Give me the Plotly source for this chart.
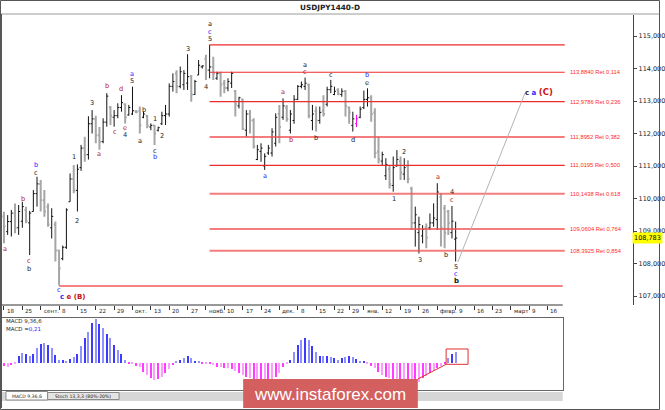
import plotly.graph_objects as go
import numpy as np
import pandas as pd

W, H = 665, 410

# ---------------- data ----------------
holidays = ["2017-12-25", "2018-01-01"]
dates = [d for d in pd.bdate_range("2017-08-18", "2018-02-09") if d.strftime("%Y-%m-%d") not in holidays]

opens = [109.45,108.98,109.29,109.55,109.10,109.30,109.65,109.25,109.60,110.15,
         110.45,109.95,109.75,109.10,109.20,108.40,108.15,108.50,109.90,110.60,
         110.25,110.95,111.55,111.35,112.30,112.45,111.95,111.75,112.35,112.80,
         112.50,112.55,112.80,112.90,112.57,112.60,112.68,112.70,112.50,112.55,
         112.20,112.25,112.10,112.30,112.55,112.60,113.45,113.85,113.45,113.50,
         113.55,113.75,113.20,113.80,114.05,114.30,113.95,114.05,113.70,113.85,
         113.55,113.40,113.55,113.30,112.85,113.05,112.10,112.60,112.40,111.20,
         111.45,111.00,111.40,111.40,111.70,112.60,112.50,112.80,112.10,112.40,
         113.05,113.45,113.45,113.50,112.40,112.70,112.40,112.70,112.90,113.35,
         113.20,113.35,113.20,113.30,112.80,112.25,112.30,112.50,112.80,113.05,
         113.10,112.65,111.45,111.15,110.70,110.90,110.40,111.00,111.15,110.75,
         111.00,110.30,109.25,108.95,108.85,109.10,109.10,109.25,109.35,110.05,
         109.70,109.60,108.95,108.75]
highs = [109.59,109.49,109.65,109.85,109.80,109.90,109.75,109.62,110.26,110.67,
         110.57,110.26,109.85,109.70,109.29,108.42,108.55,109.70,110.77,111.03,
         111.05,111.65,111.90,112.53,112.72,112.55,112.20,112.47,113.24,112.85,
         112.72,112.93,113.18,112.93,112.88,113.44,112.72,112.83,112.67,112.57,
         112.31,112.26,112.21,112.67,112.88,113.54,113.85,113.95,114.06,113.95,
         114.44,113.80,113.65,114.26,114.10,114.42,114.73,114.36,113.90,113.90,
         113.65,113.70,113.90,113.34,113.13,113.08,112.72,112.72,112.47,111.65,
         111.70,111.39,111.65,112.16,112.62,112.88,113.08,112.88,112.72,113.18,
         113.49,113.60,113.72,113.54,112.88,112.83,112.83,113.18,113.44,113.65,
         113.44,113.39,113.39,113.34,112.83,112.67,112.57,112.83,113.32,113.39,
         113.18,112.78,111.90,111.44,111.24,111.03,111.29,111.49,111.29,111.24,
         111.18,110.36,109.75,109.44,109.18,109.23,109.54,109.85,110.47,110.16,
         109.80,109.65,109.77,109.29]
lows = [108.62,108.88,108.83,108.93,108.88,109.10,109.24,108.26,109.60,109.75,
        109.60,109.44,109.13,108.77,108.06,107.32,108.10,108.45,109.90,110.16,
        109.60,110.85,111.13,111.20,112.00,111.70,111.50,111.70,112.21,112.26,
        112.21,112.47,112.67,112.31,112.55,112.57,112.62,112.00,112.47,112.16,
        112.10,111.65,112.06,112.26,112.26,112.52,113.29,113.24,113.39,113.34,
        113.34,112.98,113.19,113.80,114.00,113.65,113.70,113.65,113.65,113.13,
        113.24,113.30,113.40,112.52,112.77,112.11,111.90,112.00,111.54,111.18,
        111.13,110.88,111.34,111.29,111.60,111.70,112.42,112.36,112.00,112.30,
        113.03,113.39,113.34,112.47,112.10,112.06,112.30,112.52,112.83,113.24,
        113.18,113.18,113.13,112.52,112.30,112.06,112.20,112.47,112.75,112.83,
        112.36,111.24,111.08,111.03,110.57,110.31,110.21,110.98,110.57,110.57,
        110.47,109.03,108.52,108.31,108.62,108.47,109.03,109.13,109.03,108.52,
        108.47,108.88,108.77,108.06]
closes = [109.15,109.29,109.55,109.10,109.60,109.75,109.30,109.55,110.15,110.45,
          109.95,109.60,109.20,109.45,108.40,107.85,108.50,109.65,110.60,110.25,
          110.90,111.55,111.35,112.30,112.45,111.95,111.75,112.35,113.15,112.55,
          112.55,112.80,112.95,112.50,112.80,112.70,112.66,112.25,112.60,112.25,
          112.25,112.00,112.18,112.55,112.60,113.45,113.60,113.45,113.90,113.85,
          113.75,113.20,113.60,114.10,114.08,113.95,114.05,113.85,113.85,113.50,
          113.40,113.60,113.85,112.90,113.10,112.15,112.60,112.40,111.60,111.50,
          111.55,111.30,111.55,112.05,112.50,112.20,112.85,112.45,112.60,113.05,
          113.45,113.50,113.55,112.55,112.60,112.40,112.65,112.60,113.35,113.45,
          113.30,113.22,113.30,112.85,112.65,112.45,112.45,112.75,113.05,113.10,
          112.60,111.40,111.20,111.35,111.05,110.45,110.95,111.20,110.80,110.95,
          110.60,109.25,109.50,109.20,109.05,108.80,109.25,109.40,110.20,109.10,
          108.95,109.25,109.30,108.783]
magenta_bar = [96]

macd = [-0.061,-0.082,-0.054,-0.014,0.136,0.19,0.17,0.136,0.17,0.29,
        0.39,0.41,0.36,0.29,0.156,0.054,0.054,0.04,0.075,0.12,
        0.17,0.35,0.50,0.63,0.80,0.89,0.78,0.70,0.58,0.50,
        0.36,0.26,0.17,0.054,-0.014,-0.034,-0.061,-0.082,-0.18,-0.25,
        -0.31,-0.35,-0.34,-0.29,-0.22,-0.13,-0.048,0.02,0.054,0.088,
        0.136,0.10,0.04,0.02,-0.007,-0.014,-0.014,-0.048,-0.082,-0.082,
        -0.10,-0.116,-0.13,-0.17,-0.22,-0.25,-0.29,-0.32,-0.35,-0.39,
        -0.40,-0.42,-0.40,-0.37,-0.29,-0.20,-0.082,-0.014,0.054,0.22,
        0.37,0.46,0.51,0.46,0.35,0.22,0.14,0.136,0.14,0.116,
        0.088,0.054,0.088,0.116,0.14,0.12,0.075,0.034,0.02,-0.034,
        -0.061,-0.116,-0.18,-0.25,-0.29,-0.32,-0.33,-0.35,-0.39,-0.42,
        -0.46,-0.49,-0.44,-0.39,-0.32,-0.27,-0.20,-0.17,-0.116,-0.061,
        -0.014,0.10,0.17,0.21]

tick_dates = ["2017-08-18","2017-08-25","2017-09-01","2017-09-08","2017-09-15","2017-09-22","2017-09-29",
              "2017-10-06","2017-10-13","2017-10-20","2017-10-27","2017-11-03","2017-11-10","2017-11-17",
              "2017-11-24","2017-12-01","2017-12-08","2017-12-15","2017-12-22","2017-12-29","2018-01-05",
              "2018-01-12","2018-01-19","2018-01-26","2018-02-02","2018-02-09","2018-02-16","2018-02-23",
              "2018-03-02","2018-03-09","2018-03-16"]
tick_labels = ["18","25","сент.","8","15","22","29","окт.","13","20","27","нояб.","10","17","24",
               "дек.","8","15","22","29","янв.","12","19","26","февр.","9","16","23","март","9","16"]

price_ticks = [107, 108, 109, 110, 111, 112, 113, 114, 115]
fib_high, fib_low = 114.73, 107.309
fib_levels = [113.8840, 112.9786, 111.8952, 111.0195, 110.1438, 109.0604, 108.3925]
fib_ratios = ["0,114", "0,236", "0,382", "0,500", "0,618", "0,764", "0,854"]
last_price = 108.783
macd_now = "0,21"

# wave labels: (bar position, price, text, colour key)
wave_pos   = [56.1,56.1,56.1,50.1,55.1,34.9,34.9,28.0,32.0,24.1,30.1,33.0,33.0,38.1,41.1,43.1,37.0,41.1,41.1,
              25.9,19.2,19.9,8.8,8.8,5.05,0.3,6.8,6.8,15.1,71.0,76.1,78.1,82.0,82.0,84.9,89.0,95.1,98.9,98.9,
              109.0,106.1,118.3,122.1,122.1,113.2,120.3,123.1,123.1]
wave_price = [115.37,115.13,114.92,114.59,113.42,113.83,113.62,113.46,113.36,112.93,112.04,112.16,111.94,
              112.72,112.46,111.92,111.78,111.47,111.27,111.37,111.28,109.32,111.03,110.79,109.98,108.45,
              108.09,107.82,107.18,110.70,113.28,111.80,114.11,113.90,111.85,113.80,111.80,113.80,113.56,
              111.44,109.98,110.65,110.20,109.95,108.11,108.25,107.88,107.67]
wave_text  = ["a","c","5","3","4","a","5","b","d","3","c","e","4","b","1","2","a","c","b",
              "a","1","2","b","c","b","a","c","b","c","a","a","b","a","c","b","c","d","b","e",
              "2","1","a","4","c","3","b","5","c"]
wave_col   = ["k","b","k","k","k","b","k","r","r","k","r","r","k","k","k","k","k","k","b",
              "r","k","k","b","k","r","r","r","k","b","b","r","r","k","r","k","k","k","b","k",
              "k","k","r","k","r","k","k","k","b"]

# ---------------- geometry helpers ----------------
def px(x):
    return x / W

def py(y):
    return 1 - y / H

BAR0, STEP = 4.0, 3.7          # pixel of first bar and bar spacing
PLOT_L, PLOT_R = 2, 638
MACD_R = 567
Y_TOP, Y_BOT = 15, 305
PRICE_Y0, PRICE_SCALE = 36, 32.5   # pixel of 115 and px per unit

def xr(p):
    return (p - BAR0) / STEP

idx = list(range(len(opens)))
last_i = idx[-1]
dstr = [d.strftime("%Y-%m-%d") for d in dates]

def tick_index(d):
    if d in dstr:
        return dstr.index(d)
    return last_i + int(np.busday_count(dstr[-1], d))

tick_idx = [tick_index(d) for d in tick_dates]

RED = "#ee2b2b"
COLS = {"k": "#1e1e1e", "r": "#b52626", "b": "#2a2aff"}
FONT = "DejaVu Sans"

fig = go.Figure()

main_i = [i for i in idx if i not in magenta_bar]
fig.add_trace(go.Ohlc(
    x=main_i, open=[opens[i] for i in main_i], high=[highs[i] for i in main_i],
    low=[lows[i] for i in main_i], close=[closes[i] for i in main_i],
    increasing=dict(line=dict(color="#111111", width=1)),
    decreasing=dict(line=dict(color="#a6a6a6", width=2)),
    tickwidth=0.42, xaxis="x", yaxis="y", hoverinfo="skip", showlegend=False))
fig.add_trace(go.Ohlc(
    x=magenta_bar, open=[opens[i] for i in magenta_bar], high=[highs[i] for i in magenta_bar],
    low=[lows[i] for i in magenta_bar], close=[closes[i] for i in magenta_bar],
    increasing=dict(line=dict(color="#ff00ff", width=1)),
    decreasing=dict(line=dict(color="#ff00ff", width=1)),
    tickwidth=0.42, xaxis="x", yaxis="y", hoverinfo="skip", showlegend=False))

pos_cols = ["#3c3cff", "#9090ff"]
neg_cols = ["#ff3cff", "#ff9cff"]
mcols = [(pos_cols if v >= 0 else neg_cols)[i % 2] for i, v in enumerate(macd)]
fig.add_trace(go.Bar(x=idx, y=macd, marker=dict(color=mcols, line=dict(width=0)),
                     width=0.32, xaxis="x2", yaxis="y2", hoverinfo="skip", showlegend=False))

shapes = []
annotations = []

# Fibonacci lines
shapes.append(dict(type="line", xref="x", yref="y", x0=56, x1=xr(569), y0=fib_high, y1=fib_high,
                   line=dict(color=RED, width=1.2)))
shapes.append(dict(type="line", xref="x", yref="y", x0=15, x1=xr(567), y0=fib_low, y1=fib_low,
                   line=dict(color="rgba(240,90,90,0.75)", width=2)))
for k, (lv, r) in enumerate(zip(fib_levels, fib_ratios)):
    strong = k in (0, 1, 3)
    shapes.append(dict(type="line", xref="x", yref="y", x0=56, x1=xr(569), y0=lv, y1=lv,
                       line=dict(color=RED if strong else "rgba(240,80,80,0.75)",
                                 width=1.2 if strong else 2)))
    txt = ("%.4f" % lv).replace(".", ",") + " Ret " + r
    annotations.append(dict(xref="x", yref="y", x=xr(572), y=lv, text=txt, showarrow=False,
                            xanchor="left", yanchor="middle",
                            font=dict(family="Liberation Sans", size=5.8, color="#ff2a2a")))

# projection line
shapes.append(dict(type="line", xref="x", yref="y", x0=123.6, y0=108.05, x1=141.9, y1=113.25,
                   line=dict(color="#b4b4b4", width=1)))

# axis line (bottom of price chart, only to 567)
shapes.append(dict(type="line", xref="paper", yref="paper", x0=px(PLOT_L), x1=px(MACD_R),
                   y0=py(Y_BOT), y1=py(Y_BOT), line=dict(color="#333333", width=1)))
# title bar separator
shapes.append(dict(type="line", xref="paper", yref="paper", x0=px(1), x1=px(664),
                   y0=py(14), y1=py(14), line=dict(color="#9a9a9a", width=1)))
# outer frame
shapes.append(dict(type="rect", xref="paper", yref="paper", x0=px(0.5), x1=px(664.5),
                   y0=py(409.5), y1=py(0.5), line=dict(color="#555555", width=1)))
# left border of chart
shapes.append(dict(type="line", xref="paper", yref="paper", x0=px(1.5), x1=px(1.5),
                   y0=py(408), y1=py(14), line=dict(color="#555555", width=1)))

# tabs band
shapes.append(dict(type="rect", xref="paper", yref="paper", x0=px(2), x1=px(MACD_R),
                   y0=py(401), y1=py(392), fillcolor="#d6d6d6", line=dict(width=0), layer="below"))
shapes.append(dict(type="rect", xref="paper", yref="paper", x0=px(6), x1=px(48),
                   y0=py(400), y1=py(391.5), fillcolor="#ffffff", line=dict(color="#8a8a8a", width=1)))
shapes.append(dict(type="rect", xref="paper", yref="paper", x0=px(48), x1=px(120),
                   y0=py(399.5), y1=py(392.5), fillcolor="#e4e4e4", line=dict(color="#8a8a8a", width=1)))

# MACD highlight box and connector
shapes.append(dict(type="rect", xref="x2", yref="y2", x0=xr(449.5), x1=xr(471.6), y0=-0.033, y1=0.28,
                   line=dict(color="#e03030", width=1)))
shapes.append(dict(type="line", xref="paper", yref="paper", x0=px(449.5), y0=py(364.3),
                   x1=px(421), y1=py(379), line=dict(color="#e03030", width=1)))

# watermark
shapes.append(dict(type="rect", xref="paper", yref="paper", x0=px(245), x1=px(421),
                   y0=py(408), y1=py(379), fillcolor="#d45f5f", line=dict(width=0)))
annotations.append(dict(xref="paper", yref="paper", x=px(333), y=py(394), text="www.instaforex.com",
                        showarrow=False, xanchor="center", yanchor="middle",
                        font=dict(family="Liberation Sans", size=17, color="#ffffff")))

# title
annotations.append(dict(xref="paper", yref="paper", x=px(332), y=py(7), text="<b>USDJPY1440-D</b>",
                        showarrow=False, xanchor="center", yanchor="middle",
                        font=dict(family=FONT, size=7.3, color="#222222")))

# time labels
for ti, tl in zip(tick_idx, tick_labels):
    annotations.append(dict(xref="x", yref="paper", x=ti, y=py(311), text=tl, showarrow=False,
                            xanchor="left", yanchor="middle", xshift=1,
                            font=dict(family=FONT, size=5.6, color="#222222")))

# current price tag
annotations.append(dict(xref="paper", yref="y", x=px(637), y=last_price,
                        text=("%.3f" % last_price).replace(".", ","), showarrow=False,
                        xanchor="left", yanchor="middle", bgcolor="#ffff00", borderpad=1,
                        font=dict(family=FONT, size=6.5, color="#000000")))

# MACD texts
annotations.append(dict(xref="paper", yref="paper", x=px(4), y=py(320.5), text="MACD 9,36,6",
                        showarrow=False, xanchor="left", yanchor="middle",
                        font=dict(family=FONT, size=5.5, color="#222222")))
annotations.append(dict(xref="paper", yref="paper", x=px(4), y=py(329),
                        text='MACD =<span style="color:#2a2aff">' + macd_now + '</span>',
                        showarrow=False, xanchor="left", yanchor="middle",
                        font=dict(family=FONT, size=5.5, color="#222222")))
annotations.append(dict(xref="paper", yref="paper", x=px(27), y=py(396), text="MACD 9,36,6",
                        showarrow=False, xanchor="center", yanchor="middle",
                        font=dict(family=FONT, size=4.6, color="#222222")))
annotations.append(dict(xref="paper", yref="paper", x=px(84), y=py(396), text="Stoch 13,3,3 (80%-20%)",
                        showarrow=False, xanchor="center", yanchor="middle",
                        font=dict(family=FONT, size=4.6, color="#222222")))

# wave labels
for xp, yp, t, c in zip(wave_pos, wave_price, wave_text, wave_col):
    annotations.append(dict(xref="x", yref="y", x=xp, y=yp, text=t, showarrow=False,
                            xanchor="center", yanchor="middle",
                            font=dict(family=FONT, size=6.6, color=COLS[c])))
annotations.append(dict(xref="x", yref="y", x=123.1, y=107.47, text="<b>b</b>", showarrow=False,
                        xanchor="center", yanchor="middle", font=dict(family=FONT, size=7, color="#111111")))
annotations.append(dict(xref="x", yref="y", x=14.6, y=106.98,
                        text='<b><span style="color:#2a2aff">c</span> <span style="color:#cc1111">e (B)</span></b>',
                        showarrow=False, xanchor="left", yanchor="middle",
                        font=dict(family=FONT, size=7, color="#cc1111")))
annotations.append(dict(xref="x", yref="y", x=141.3, y=113.29,
                        text='<b><span style="color:#222222">c</span> <span style="color:#2a2aff">a</span> <span style="color:#cc1111;font-size:8.5px">(C)</span></b>',
                        showarrow=False, xanchor="left", yanchor="middle",
                        font=dict(family=FONT, size=7, color="#cc1111")))

# ---------------- layout ----------------
y_lo = 115 - (Y_BOT - PRICE_Y0) / PRICE_SCALE
y_hi = 115 + (PRICE_Y0 - Y_TOP) / PRICE_SCALE
m_per_px = 0.0204
m_zero = 362.7
M_TOP, M_BOT = 318, 390

fig.update_layout(
    width=W, height=H, margin=dict(l=0, r=0, t=0, b=0),
    paper_bgcolor="white", plot_bgcolor="white", showlegend=False,
    font=dict(family=FONT, size=6.5, color="#222222"),
    xaxis=dict(domain=[px(PLOT_L), px(PLOT_R)], range=[xr(PLOT_L), xr(PLOT_R)],
               showgrid=False, zeroline=False, showline=False, rangeslider=dict(visible=False),
               tickmode="array", tickvals=tick_idx, ticks="outside", ticklen=4, tickcolor="#333333",
               showticklabels=False, fixedrange=True),
    yaxis=dict(domain=[py(Y_BOT), py(Y_TOP)], range=[y_lo, y_hi], side="right",
               showgrid=False, zeroline=False, showline=True, linecolor="#444444", linewidth=1,
               tickmode="array", tickvals=price_ticks,
               ticktext=[("%.3f" % v).replace(".", ",") for v in price_ticks],
               ticks="outside", ticklen=3, tickcolor="#444444",
               tickfont=dict(family=FONT, size=6.5, color="#222222"), fixedrange=True),
    xaxis2=dict(domain=[px(PLOT_L), px(MACD_R)], range=[xr(PLOT_L), xr(MACD_R)], anchor="y2",
                showgrid=False, zeroline=False, showline=True, mirror=True, linecolor="#666666",
                showticklabels=False, ticks="", fixedrange=True),
    yaxis2=dict(domain=[py(M_BOT), py(M_TOP)],
                range=[-(M_BOT - m_zero) * m_per_px, (m_zero - M_TOP) * m_per_px], anchor="x2",
                showgrid=False, zeroline=False, showline=True, mirror=True, linecolor="#666666",
                showticklabels=False, ticks="", fixedrange=True),
    shapes=shapes, annotations=annotations, bargap=0,
)

fig.write_html("out.html", config={"displayModeBar": False},
               post_script="document.body.style.margin='0px';document.body.style.overflow='hidden';")
